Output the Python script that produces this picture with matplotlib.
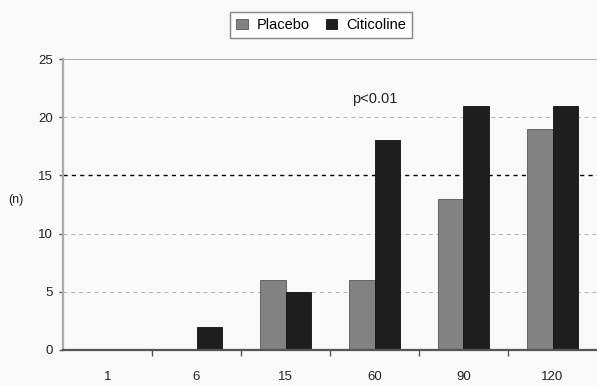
import numpy as np
import matplotlib.pyplot as plt

plt.rcParams['font.family'] = ['Liberation Sans', 'DejaVu Sans']

days = ['1', '6', '15', '60', '90', '120']
placebo = [0, 0, 6, 6, 13, 19]
citicoline = [0, 2, 5, 18, 21, 21]

bg = '#f9f9f9'
fig = plt.figure(figsize=(5.97, 3.86), dpi=100, facecolor=bg)
ax = fig.add_axes([63 / 597, 1 - 350 / 386, 1 - 63 / 597, (350 - 59) / 386])
ax.set_facecolor(bg)

x = np.arange(len(days))
w = 0.29
ax.bar(x - w / 2, placebo, w, color='#828282', edgecolor='#555555', linewidth=0.6,
       label='Placebo', zorder=3)
ax.bar(x + w / 2, citicoline, w, color='#1e1e1e', edgecolor='#111111', linewidth=0.6,
       label='Citicoline', zorder=3)

ax.set_xlim(-0.5, len(days) - 0.5)
ax.set_ylim(0, 25)

# gridlines: light dashed, with the 15 line in black
for v in [5, 10, 20]:
    ax.axhline(v, color='#b0b0b0', linestyle=(0, (4, 4)), linewidth=0.7, zorder=1)
ax.axhline(15, color='black', linestyle=(0, (3, 3)), linewidth=1.0, zorder=1)
ax.axhline(25, color='#a0a0a0', linewidth=1.2, zorder=1)

ax.set_yticks([0, 5, 10, 15, 20, 25])
ax.set_xticks(x)
ax.set_xticklabels(days)
ax.set_xticks(np.arange(0.5, len(days) - 0.5), minor=True)
ax.tick_params(axis='x', which='major', length=0, pad=15, labelsize=9.5, colors='#222222')
ax.tick_params(axis='x', which='minor', length=4, width=1, color='#555555', direction='out')
ax.tick_params(axis='y', length=3, width=1, pad=4, labelsize=9.5,
               colors='#555555', labelcolor='#222222')

for s in ['top', 'right']:
    ax.spines[s].set_visible(False)
ax.spines['left'].set_color('#aaaaaa')
ax.spines['left'].set_linewidth(1.6)
ax.spines['bottom'].set_color('#555555')
ax.spines['bottom'].set_linewidth(1.6)
ax.spines['bottom'].set_zorder(4)

ax.text(3, 21.6, 'p<0.01', ha='center', va='center', fontsize=10.5, color='#222222')
fig.text(16 / 597, 1 - 200 / 386, '(n)', ha='center', va='center', fontsize=9,
         color='#222222')

leg = fig.legend(loc='center', bbox_to_anchor=(321 / 597, 1 - 25 / 386), ncol=2,
                 fontsize=10.5, frameon=True, fancybox=False, handlelength=0.8,
                 handleheight=0.7, handletextpad=0.6, columnspacing=1.1,
                 borderpad=0.4, edgecolor='#666666')
leg.get_frame().set_facecolor('white')
leg.get_frame().set_linewidth(1.0)

fig.savefig('out.png', dpi=100, facecolor=bg)
